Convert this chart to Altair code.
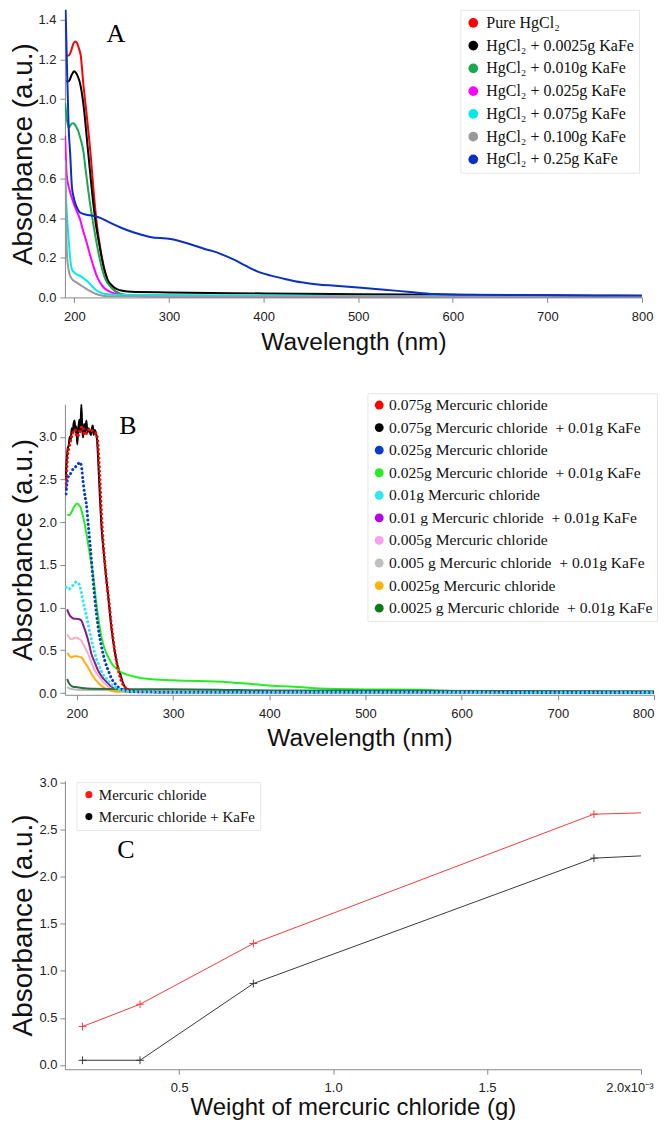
import altair as alt
import pandas as pd

SANS = "Liberation Sans"
SERIF = "Liberation Serif"

# ---------------- Panel A data ----------------
A_names = [
    "Pure HgCl₂",
    "HgCl₂ + 0.0025g KaFe",
    "HgCl₂ + 0.010g KaFe",
    "HgCl₂ + 0.025g KaFe",
    "HgCl₂ + 0.075g KaFe",
    "HgCl₂ + 0.100g KaFe",
    "HgCl₂ + 0.25g KaFe",
]
A_colors = ["#ff0000", "#000000", "#19a84c", "#ff00ff", "#00eaea", "#999999", "#0b2fc2"]
A_xticks = [200, 300, 400, 500, 600, 700, 800]
A_yticks = [0.0, 0.2, 0.4, 0.6, 0.8, 1.0, 1.2, 1.4]

A_pure = [(191.5, 1.22), (194, 1.22), (197, 1.25), (199, 1.28), (200.7, 1.29), (202.5, 1.285),
          (204.5, 1.26), (206.7, 1.22), (209.4, 1.08), (213, 0.92), (217, 0.73), (221, 0.50),
          (224, 0.36), (227, 0.26), (230, 0.18), (233, 0.12), (236, 0.075), (240, 0.045),
          (245, 0.025), (252, 0.012), (270, 0.006), (400, 0.004), (600, 0.004), (800, 0.004)]
A_k0025 = [(191.5, 1.09), (194, 1.09), (197, 1.12), (199.7, 1.14), (202, 1.13), (204, 1.11),
           (206, 1.08), (209.4, 0.98), (214.6, 0.73), (219.9, 0.478), (223, 0.36), (226, 0.277),
           (231.4, 0.143), (235, 0.09), (240, 0.059), (245, 0.042), (251, 0.034), (260, 0.028),
           (300, 0.025), (400, 0.02), (500, 0.016), (600, 0.013), (700, 0.01), (800, 0.008)]
A_k010 = [(190.3, 0.98), (192, 0.9), (194, 0.855), (196, 0.87), (198.3, 0.878), (200, 0.875),
          (202, 0.86), (204, 0.84), (206.5, 0.8), (209.4, 0.74), (212, 0.64), (216.4, 0.478),
          (220, 0.37), (223.4, 0.277), (227, 0.19), (230.3, 0.126), (233, 0.09), (237, 0.06),
          (244, 0.029), (255, 0.012), (300, 0.006), (800, 0.004)]
A_k025 = [(190.3, 0.815), (191, 0.7), (192, 0.613), (195, 0.54), (199, 0.478), (202, 0.44),
          (206, 0.394), (209, 0.34), (213, 0.277), (216.5, 0.215), (220, 0.16), (223.5, 0.11),
          (227, 0.076), (231, 0.05), (235.5, 0.034), (242, 0.02), (255, 0.01), (300, 0.005),
          (800, 0.003)]
A_k075 = [(190.3, 0.62), (191.5, 0.47), (193.7, 0.31), (195.5, 0.2), (197.3, 0.143), (200, 0.125),
          (203, 0.115), (206, 0.109), (210, 0.095), (213, 0.084), (216.5, 0.068), (220, 0.05),
          (223.5, 0.035), (227, 0.025), (232, 0.018), (240, 0.014), (300, 0.012), (380, 0.01),
          (500, 0.006), (800, 0.004)]
A_k100 = [(190.3, 0.69), (191, 0.45), (192, 0.227), (193.5, 0.15), (195.5, 0.109), (199, 0.085),
          (202.5, 0.075), (207, 0.06), (213, 0.042), (218, 0.028), (223, 0.017), (230, 0.008),
          (240, 0.004), (800, 0.003)]
A_k25 = [(190, 1.6), (192, 1.2), (194, 0.85), (195.5, 0.73), (197.3, 0.563), (199, 0.51),
         (200.7, 0.478), (203, 0.45), (206, 0.428), (212, 0.418), (219.9, 0.411), (228, 0.4),
         (237, 0.378), (250, 0.35), (263, 0.327), (280, 0.305), (301.8, 0.294), (322.7, 0.268),
         (337, 0.245), (350.5, 0.227), (361, 0.207), (371, 0.185), (381, 0.16), (392, 0.134),
         (408, 0.11), (423.6, 0.092), (440, 0.076), (457.6, 0.065), (475.6, 0.059), (500, 0.05),
         (527.8, 0.039), (555, 0.027), (580, 0.017), (620, 0.013), (684.6, 0.012), (750, 0.01),
         (800, 0.009)]
A_curves = [A_pure, A_k0025, A_k010, A_k025, A_k075, A_k100, A_k25]

# ---------------- Panel B data ----------------
B_names = [
    "0.075g Mercuric chloride",
    "0.075g Mercuric chloride \u00a0+ 0.01g KaFe",
    "0.025g Mercuric chloride",
    "0.025g Mercuric chloride \u00a0+ 0.01g KaFe",
    "0.01g Mercuric chloride",
    "0.01 g Mercuric chloride \u00a0+ 0.01g KaFe",
    "0.005g Mercuric chloride",
    "0.005 g Mercuric chloride \u00a0+ 0.01g KaFe",
    "0.0025g Mercuric chloride",
    "0.0025 g Mercuric chloride \u00a0+ 0.01g KaFe",
]
B_colors = ["#ff0000", "#000000", "#0a3ccc", "#22ee22", "#30e8f0",
            "#8a1a8a", "#f5b0c8", "#bbbbbb", "#ffae1a", "#2d6e46"]
B_legend_colors = ["#ff0000", "#000000", "#0a3ccc", "#22ee22", "#30e8f0",
                   "#b400ee", "#f5a0ee", "#c0c0c0", "#ffb400", "#0a7a1a"]
B_dotted = [True, False, True, False, True, False, False, False, False, False]
B_xticks = [200, 300, 400, 500, 600, 700, 800]
B_yticks = [0.0, 0.5, 1.0, 1.5, 2.0, 2.5, 3.0]

B_hg075 = [(188.5, 2.4), (189.5, 2.62), (190.5, 2.8), (192, 2.88), (194, 2.98), (196, 3.05),
           (198, 3.08), (200, 3.0), (202, 3.03), (204, 3.1), (206, 3.12), (208, 3.02), (210, 3.04),
           (212, 3.08), (214, 3.06), (216, 3.07), (218, 3.05), (220, 3.04), (222, 2.9),
           (223.9, 2.5), (226, 2.0), (228.4, 1.6), (230.5, 1.35), (233.5, 1.05), (236.2, 0.76),
           (239, 0.52), (241.5, 0.35), (244, 0.22), (246.5, 0.13), (250, 0.07), (255, 0.03),
           (262, 0.015), (300, 0.01), (800, 0.01)]
B_hg075k = [(188.5, 2.52), (189.5, 2.75), (190.5, 2.87), (191.5, 2.9), (192.5, 3.0), (193.5, 2.95),
            (194.5, 3.1), (195.5, 3.05), (196.5, 3.15), (197.6, 3.19), (198.5, 3.05), (199.5, 3.12),
            (200.3, 2.91), (201.5, 3.1), (202.5, 3.2), (203.5, 3.05), (204.6, 3.38), (205.5, 3.1),
            (206.3, 2.99), (207.5, 3.15), (208.5, 3.05), (209.8, 3.19), (211, 3.05), (212, 3.1),
            (213, 3.07), (214.5, 3.02), (215.5, 3.1), (216.5, 3.13), (217.5, 3.02), (218.5, 3.08),
            (220, 3.03), (221, 2.95), (222, 2.75), (223.9, 2.29), (225.5, 1.95), (227.4, 1.7),
            (229.5, 1.45), (232.6, 1.12), (236.2, 0.73), (239.7, 0.46), (242, 0.33), (245, 0.225),
            (247.5, 0.13), (250, 0.07), (254, 0.04), (259, 0.03), (270, 0.025), (300, 0.022),
            (400, 0.02), (500, 0.02), (600, 0.018), (800, 0.016)]
B_hg025 = [(188.7, 2.33), (190.5, 2.52), (192.5, 2.55), (195.8, 2.62), (198, 2.64), (201, 2.68),
           (203, 2.7), (204.6, 2.66), (206.3, 2.48), (208, 2.33), (209.8, 2.21), (212.3, 1.9),
           (214, 1.7), (216.8, 1.32), (220.3, 0.925), (223, 0.7), (225.6, 0.54), (229, 0.38),
           (232.6, 0.265), (236, 0.17), (239.7, 0.11), (244, 0.06), (250, 0.03), (258, 0.015),
           (300, 0.01), (800, 0.008)]
B_hg025k = [(189.8, 2.09), (192, 2.08), (194, 2.11), (197, 2.18), (200.3, 2.22), (202, 2.2),
            (203.9, 2.17), (206, 2.08), (208, 1.98), (210, 1.86), (212.3, 1.7), (214, 1.58),
            (216.8, 1.39), (220.3, 1.04), (223, 0.82), (225.6, 0.65), (229, 0.51), (232.6, 0.42),
            (236.5, 0.34), (241.4, 0.284), (245, 0.25), (250, 0.225), (259, 0.195), (272.6, 0.167),
            (300, 0.15), (356.8, 0.128), (398.9, 0.09), (430, 0.07), (462, 0.05), (510, 0.042),
            (557, 0.038), (600, 0.025), (700, 0.022), (800, 0.02)]
B_hg010 = [(188.7, 1.24), (192, 1.22), (195, 1.25), (199.3, 1.3), (201, 1.29), (202.8, 1.26),
           (204.5, 1.18), (206.3, 1.08), (209, 0.95), (211.6, 0.81), (214, 0.68), (216.8, 0.54),
           (220, 0.41), (223.9, 0.3), (227, 0.22), (230.9, 0.167), (235, 0.11), (239.7, 0.07),
           (248, 0.03), (260, 0.015), (300, 0.01), (800, 0.008)]
B_hg010k = [(189.8, 0.98), (192, 0.92), (194, 0.89), (197, 0.87), (199.3, 0.87), (202, 0.865),
            (204.6, 0.85), (207, 0.78), (209.8, 0.69), (212.5, 0.58), (215, 0.46), (218.5, 0.36),
            (222, 0.265), (226, 0.19), (230.9, 0.13), (235, 0.08), (239.7, 0.05), (250, 0.025),
            (270, 0.015), (800, 0.01)]
B_hg005 = [(189.8, 0.69), (192, 0.65), (194, 0.63), (197, 0.645), (199.3, 0.65), (202, 0.635),
           (204.6, 0.615), (208, 0.54), (211.6, 0.46), (215, 0.36), (218.6, 0.265), (223, 0.19),
           (227.4, 0.13), (232, 0.08), (236.2, 0.05), (246, 0.025), (260, 0.015), (800, 0.01)]
B_hg005k = [(189.8, 0.07), (192, 0.055), (196, 0.045), (200, 0.04), (215, 0.035), (240, 0.033),
            (280, 0.032), (340, 0.03), (400, 0.025), (800, 0.02)]
B_hg0025 = [(189.8, 0.47), (192, 0.44), (194, 0.42), (197, 0.43), (199.3, 0.43), (202, 0.425),
            (204.6, 0.42), (208, 0.36), (211.6, 0.3), (215, 0.23), (218.6, 0.167), (223, 0.11),
            (227.4, 0.07), (232, 0.04), (236.2, 0.025), (245, 0.015), (800, 0.01)]
B_hg0025k = [(189.8, 0.167), (191.5, 0.12), (193.5, 0.09), (196, 0.075), (199.3, 0.07), (205, 0.06),
             (215, 0.05), (250, 0.045), (285, 0.045), (346, 0.04), (400, 0.03), (800, 0.02)]
B_curves = [B_hg075, B_hg075k, B_hg025, B_hg025k, B_hg010, B_hg010k,
            B_hg005, B_hg005k, B_hg0025, B_hg0025k]

# ---------------- Panel C data ----------------
C_names = ["Mercuric chloride", "Mercuric chloride + KaFe"]
C_colors = ["#f03c3c", "#3a3a3a"]
C_legend_colors = ["#ff1a1a", "#000000"]
C_weight = [0.186, 0.373, 0.741, 1.847, 2.0]   # x 10^-3 g
C_hg = [0.408, 0.645, 1.29, 2.664, 2.678]
C_hg_kafe = [0.05, 0.05, 0.865, 2.197, 2.221]
C_xticks = [0.5, 1.0, 1.5, 2.0]
C_yticks = [0.0, 0.5, 1.0, 1.5, 2.0, 2.5, 3.0]

# ---------------- tables ----------------
rows = []
for name, pts in zip(A_names, A_curves):
    for w, a in pts:
        rows.append({"series": name, "wl": w, "abs": a})
dfA = pd.DataFrame(rows)

rows = []
for name, pts, dot in zip(B_names, B_curves, B_dotted):
    for w, a in pts:
        rows.append({"series": name, "wl": w, "abs": a, "dotted": dot})
dfB = pd.DataFrame(rows)

rows = []
for name, vals in zip(C_names, [C_hg, C_hg_kafe]):
    for w, a in zip(C_weight, vals):
        rows.append({"series": name, "w": w, "abs": a})
dfC = pd.DataFrame(rows)

AX_COL = "#8a8a8a"


def x_axis(title, values, fmt, label_pad, title_pad, title_size=24.5, flush=False,
           flush_off=0, label_expr=None):
    kw = dict(title=title, values=values, format=fmt, grid=False, tickSize=5,
              tickColor=AX_COL, domainColor=AX_COL, labelPadding=label_pad,
              labelFont=SANS, labelFontSize=13, labelColor="#222222",
              titleFont=SANS, titleFontSize=title_size, titleFontWeight="normal",
              titleColor="#111111", titlePadding=title_pad, labelFlush=flush)
    if flush:
        kw["labelFlushOffset"] = flush_off
    if label_expr:
        kw["labelExpr"] = label_expr
    return alt.Axis(**kw)


def y_axis(title, values, label_pad):
    return alt.Axis(title=title, values=values, format=".1f", grid=False, tickSize=5,
                    tickColor=AX_COL, domainColor=AX_COL, labelPadding=label_pad,
                    labelFont=SANS, labelFontSize=13, labelColor="#222222",
                    titleFont=SANS, titleFontSize=28, titleFontWeight="normal",
                    titleColor="#111111", titlePadding=1,
                    minExtent=26, maxExtent=26, labelFlush=False)


def legend(x, y, font_size, sym_size, row_pad, label_off, pad):
    return alt.Legend(title=None, orient="none", legendX=x, legendY=y,
                      labelFont=SERIF, labelFontSize=font_size, labelColor="#111111",
                      symbolType="circle", symbolSize=sym_size, symbolStrokeWidth=0,
                      rowPadding=row_pad, labelOffset=label_off, padding=pad,
                      fillColor="white", strokeColor="#e6e6e6", labelLimit=400)


def panel_label(letter, px, py):
    return alt.Chart(pd.DataFrame({"t": [letter]})).mark_text(
        font=SERIF, fontSize=26, align="center", baseline="alphabetic", color="black"
    ).encode(text="t:N", x=alt.value(px), y=alt.value(py))


# ---------------- Panel A ----------------
xA = alt.X("wl:Q", scale=alt.Scale(domain=[190, 800], nice=False, zero=False),
           axis=x_axis("Wavelength (nm)", A_xticks, "d", 8, 7))
yA = alt.Y("abs:Q", scale=alt.Scale(domain=[0, 1.45], nice=False, zero=False),
           axis=y_axis("Absorbance (a.u.)", A_yticks, 4))

lineA = alt.Chart(dfA).mark_line(strokeWidth=2, interpolate="monotone", clip=True).encode(
    x=xA, y=yA,
    color=alt.Color("series:N", scale=alt.Scale(domain=A_names, range=A_colors), legend=None))
legA = alt.Chart(dfA).mark_point(filled=True, opacity=1).encode(
    color=alt.Color("series:N", scale=alt.Scale(domain=A_names, range=A_colors),
                    legend=legend(396, 0, 16, 95, 6.8, 5, 5))
).transform_filter("false")
chartA = alt.layer(lineA, legA, panel_label("A", 51, 32)).resolve_scale(
    color="independent").properties(width=578, height=288)

# ---------------- Panel B ----------------
xB = alt.X("wl:Q", scale=alt.Scale(domain=[187.5, 800], nice=False, zero=False),
           axis=x_axis("Wavelength (nm)", B_xticks, "d", 8, 6, flush=True, flush_off=0))
yB = alt.Y("abs:Q", scale=alt.Scale(domain=[-0.02, 3.38], nice=False, zero=False),
           axis=y_axis("Absorbance (a.u.)", B_yticks, 3.5))

solidB = alt.Chart(dfB).transform_filter("!datum.dotted").mark_line(
    strokeWidth=2, interpolate="monotone", clip=True).encode(
    x=xB, y=yB,
    color=alt.Color("series:N", scale=alt.Scale(domain=B_names, range=B_colors), legend=None))
dotB = alt.Chart(dfB).transform_filter("datum.dotted").mark_line(
    strokeWidth=3, strokeDash=[0.1, 4.2], strokeCap="round", interpolate="monotone",
    clip=True).encode(
    x=xB, y=yB,
    color=alt.Color("series:N", scale=alt.Scale(domain=B_names, range=B_colors), legend=None))
legB = alt.Chart(dfB).mark_point(filled=True, opacity=1).encode(
    color=alt.Color("series:N", scale=alt.Scale(domain=B_names, range=B_legend_colors),
                    legend=legend(303, -11, 15.6, 79, 5.6, 2, 4))
).transform_filter("false")
chartB = alt.layer(solidB, dotB, legB, panel_label("B", 63, 30)).resolve_scale(
    color="independent").properties(width=590, height=291)

# ---------------- Panel C ----------------
xC = alt.X("w:Q", scale=alt.Scale(domain=[0.129, 2.0], nice=False, zero=False),
           axis=x_axis("Weight of mercuric chloride (g)", C_xticks, ".1f", 7, 1, title_size=24,
                       flush=True, flush_off=12,
                       label_expr="datum.value == 2 ? '2.0x10⁻³' : format(datum.value, '.1f')"))
yC = alt.Y("abs:Q", scale=alt.Scale(domain=[-0.045, 3.02], nice=False, zero=False),
           axis=y_axis("Absorbance (a.u.)", C_yticks, 3))

lineC = alt.Chart(dfC).mark_line(strokeWidth=1).encode(
    x=xC, y=yC,
    color=alt.Color("series:N", scale=alt.Scale(domain=C_names, range=C_colors), legend=None))
crossC = alt.Chart(dfC).transform_filter("datum.w < 1.95").mark_point(
    shape="M-1,0L1,0M0,-1L0,1", size=60, strokeWidth=1, filled=False, opacity=1).encode(
    x=xC, y=yC,
    color=alt.Color("series:N", scale=alt.Scale(domain=C_names, range=C_colors), legend=None))
legC = alt.Chart(dfC).mark_point(filled=True, opacity=1).encode(
    color=alt.Color("series:N", scale=alt.Scale(domain=C_names, range=C_legend_colors),
                    legend=legend(11.5, 1.5, 15, 50, 6, 2.5, 5))
).transform_filter("false")
chartC = alt.layer(lineC, crossC, legC, panel_label("C", 61, 77)).resolve_scale(
    color="independent").properties(width=577, height=289)

top = alt.concat(chartA, chartB, columns=1, spacing=38, align="each").resolve_scale(
    color="independent")
chart = alt.concat(top, chartC, columns=1, spacing=25, align="each").resolve_scale(
    color="independent").properties(
    padding={"left": 2, "top": 0, "right": 0, "bottom": 0}).configure_view(stroke=None)

chart.save("out.html", embed_options={"renderer": "svg", "actions": False})
